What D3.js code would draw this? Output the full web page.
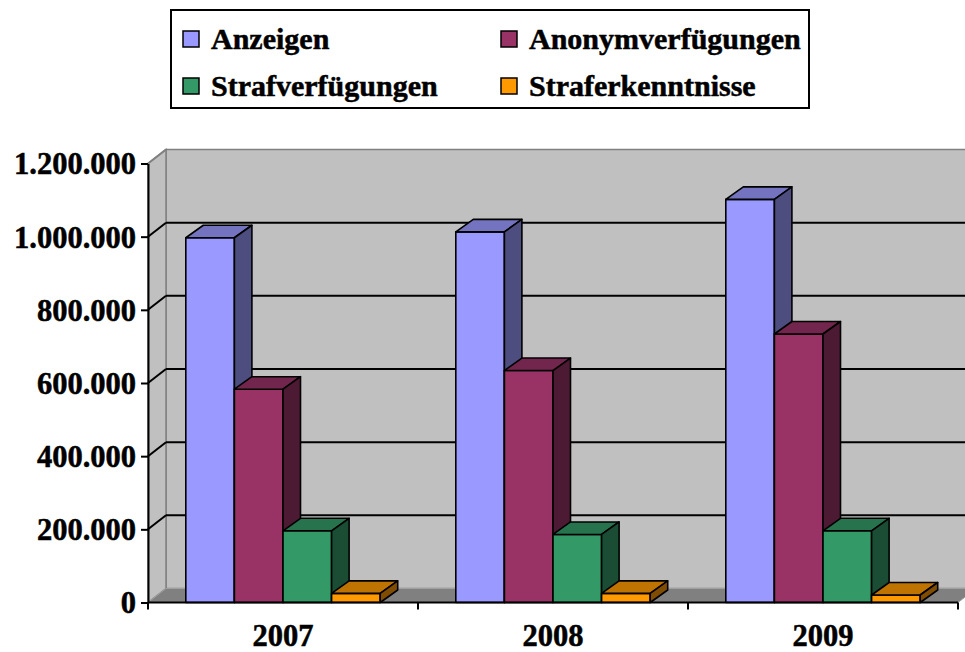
<!DOCTYPE html>
<html><head><meta charset="utf-8">
<script src="https://cdn.jsdelivr.net/npm/d3@7"></script>
<style>
html,body{margin:0;padding:0;background:#fff;}
svg{display:block;}
text{font-family:"Liberation Serif","Times New Roman",serif;font-weight:bold;fill:#000;stroke:#000;stroke-width:0.5px;}
</style></head>
<body>
<svg id="chart" width="965" height="652"></svg>
<script>
const categories = ["2007", "2008", "2009"];
const seriesNames = ["Anzeigen", "Anonymverfügungen", "Strafverfügungen", "Straferkenntnisse"];
const anzeigen = [997000, 1013000, 1102000];
const anonymverfuegungen = [583000, 634000, 734000];
const strafverfuegungen = [196000, 186000, 196000];
const straferkenntnisse = [25000, 25000, 20500];
const yTicks = [0, 200000, 400000, 600000, 800000, 1000000, 1200000];
const seriesValues = [anzeigen, anonymverfuegungen, strafverfuegungen, straferkenntnisse];
const frontColors = ["#9999FF", "#993366", "#339966", "#FF9900"];

(function () {
const FONT = '"Liberation Serif","Times New Roman",serif';
const FS = "30.5px";
const svg = d3.select("#chart");
const fmt = d3.formatLocale({decimal: ",", thousands: ".", grouping: [3], currency: ["", ""]}).format(",.0f");

const pL = 148, pR = 958, pB = 602.5, pT = 163.5;
const wdx = 18, wdy = -14;   // wall depth
const bdx = 17.5, bdy = -12.5; // bar depth

const y = d3.scaleLinear().domain([0, 1200000]).range([pB, pT]);
const x0 = d3.scaleBand().domain(categories).range([pL, pR]).padding(0);
const groupW = x0.bandwidth() * 0.72;
const x1 = d3.scaleBand().domain(seriesNames).range([0, groupW]).padding(0);
const pts = a => a.map(p => p.join(",")).join(" ");

// back wall
svg.append("rect").attr("x", pL + wdx).attr("y", pT + wdy)
  .attr("width", 1200).attr("height", pB - pT)
  .attr("fill", "#C0C0C0").attr("stroke", "#808080").attr("stroke-width", 1.5);
// side wall
svg.append("polygon")
  .attr("points", pts([[pL, pT], [pL + wdx, pT + wdy], [pL + wdx, pB + wdy], [pL, pB]]))
  .attr("fill", "#C0C0C0").attr("stroke", "#808080").attr("stroke-width", 1.5);
// floor
svg.append("polygon")
  .attr("points", pts([[pL, pB], [pL + wdx, pB + wdy], [pR + wdx, pB + wdy], [pR, pB]]))
  .attr("fill", "#808080").attr("stroke", "#A0A0A0").attr("stroke-width", 1);

// gridlines on back wall and side wall
const gridTicks = yTicks.filter(v => v > 0 && v < 1200000);
svg.selectAll("line.grid").data(gridTicks).join("line").attr("class", "grid")
  .attr("x1", pL + wdx).attr("x2", 965)
  .attr("y1", d => y(d) + wdy).attr("y2", d => y(d) + wdy)
  .attr("stroke", "#000").attr("stroke-width", 2);
svg.selectAll("line.sgrid").data(yTicks.filter(v => v > 0)).join("line").attr("class", "sgrid")
  .attr("x1", pL).attr("x2", pL + wdx)
  .attr("y1", d => y(d)).attr("y2", d => y(d) + wdy)
  .attr("stroke", d => d === 1200000 ? "#808080" : "#000").attr("stroke-width", 2);

// y axis
const yAxis = d3.axisLeft(y).tickValues(yTicks).tickFormat(fmt).tickSizeInner(7).tickSizeOuter(0).tickPadding(5);
const ga = svg.append("g").attr("transform", `translate(${pL},0)`).call(yAxis);
ga.attr("font-family", null).attr("font-size", null);
ga.select(".domain").attr("stroke", "#000").attr("stroke-width", 2);
ga.selectAll(".tick line").attr("stroke", "#000").attr("stroke-width", 2);
ga.selectAll(".tick text").style("font-family", FONT)
  .style("font-weight", "bold").style("font-size", FS).attr("fill", "#000").attr("dy", "0.34em");

// bars
function shade(c, k) { const r = d3.rgb(c); return d3.rgb(r.r * k, r.g * k, r.b * k).toString(); }
categories.forEach((cat, ci) => {
  const gx = x0(cat) + (x0.bandwidth() - groupW) / 2;
  seriesNames.forEach((s, si) => {
    const v = seriesValues[si][ci];
    const xl = gx + x1(s), xr = xl + x1.bandwidth();
    const yt = y(v), yb = y(0);
    const g = svg.append("g");
    g.append("polygon").attr("points", pts([[xl, yb], [xl, yt], [xr, yt], [xr, yb]]))
      .attr("fill", frontColors[si]).attr("stroke", "#000").attr("stroke-width", 1.6).attr("stroke-linejoin", "round");
    g.append("polygon").attr("points", pts([[xl, yt], [xl + bdx, yt + bdy], [xr + bdx, yt + bdy], [xr, yt]]))
      .attr("fill", shade(frontColors[si], 0.75)).attr("stroke", "#000").attr("stroke-width", 1.6).attr("stroke-linejoin", "round");
    g.append("polygon").attr("points", pts([[xr, yt], [xr + bdx, yt + bdy], [xr + bdx, yb + bdy], [xr, yb]]))
      .attr("fill", shade(frontColors[si], 0.5)).attr("stroke", "#000").attr("stroke-width", 1.6).attr("stroke-linejoin", "round");
  });
});

// x axis line and ticks
svg.append("line").attr("x1", pL).attr("x2", pR).attr("y1", pB).attr("y2", pB)
  .attr("stroke", "#000").attr("stroke-width", 2);
const bounds = categories.map(c => x0(c)).concat([pR]);
svg.selectAll("line.xt").data(bounds).join("line").attr("class", "xt")
  .attr("x1", d => d).attr("x2", d => d).attr("y1", pB).attr("y2", pB + 7)
  .attr("stroke", "#000").attr("stroke-width", 2);
svg.selectAll("text.xl").data(categories).join("text").attr("class", "xl")
  .attr("x", d => x0(d) + x0.bandwidth() / 2).attr("y", 646)
  .attr("text-anchor", "middle").style("font-family", FONT).style("font-size", FS).text(d => d);

// legend
const lg = svg.append("g");
lg.append("rect").attr("x", 171).attr("y", 10).attr("width", 638).attr("height", 98)
  .attr("fill", "#fff").attr("stroke", "#000").attr("stroke-width", 2);
const legPos = [[183, 31], [501, 31], [183, 78], [501, 78]];
seriesNames.forEach((s, i) => {
  const [lx, ly] = legPos[i];
  lg.append("rect").attr("x", lx).attr("y", ly).attr("width", 16).attr("height", 16)
    .attr("fill", frontColors[i]).attr("stroke", "#000").attr("stroke-width", 1.5);
  lg.append("text").attr("x", lx + 28).attr("y", ly + 18).style("font-family", FONT).style("font-size", "30px").text(s);
});
})();
</script>
</body></html>
